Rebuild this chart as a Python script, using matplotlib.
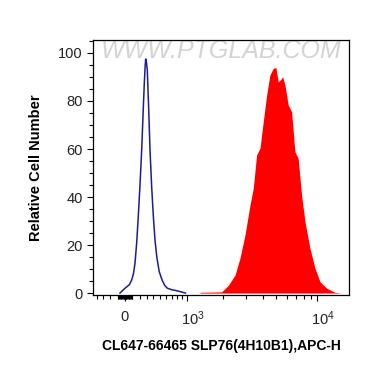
import numpy as np
import matplotlib
matplotlib.use("Agg")
import matplotlib.pyplot as plt
import matplotlib.transforms as mtransforms
from matplotlib.ticker import FixedLocator, MultipleLocator

plt.rcParams['font.family'] = ['Liberation Sans', 'DejaVu Sans']
plt.rcParams['mathtext.fontset'] = 'custom'
plt.rcParams['mathtext.rm'] = 'Liberation Sans'
plt.rcParams['mathtext.it'] = 'Liberation Sans'

# isotype control (blue outline), intensity vs relative count
control_x = [-68, 0, 60, 91, 115, 137, 160, 182, 206, 230, 250, 267, 280, 287, 298,
             310, 330, 350, 375, 400, 425, 453, 490, 537, 580, 626, 700, 789, 880, 968]
control_y = [0, 2, 3.5, 5.4, 8, 12.5, 21, 31.8, 45, 59.6, 75, 87.4, 95, 97.5, 96,
             92.9, 77, 59.6, 44, 31.8, 22, 15, 9, 5.4, 3.2, 2, 1.4, 1, 0.5, 0]

# stained sample (red filled)
sample_x = [1306, 1586, 1960, 2214, 2485, 2709, 2956, 3223, 3408, 3608, 3823, 4042,
            4281, 4526, 4786, 5006, 5203, 5418, 5603, 5829, 6161, 6523, 6892, 7283,
            7709, 8164, 8878, 9654, 10494, 11736, 13483, 15078]
sample_y = [0.3, 0.4, 0.5, 3.3, 7.5, 14.5, 24.2, 36.7, 43.6, 57.5, 60.3, 71.4,
            82.5, 90.8, 93.6, 93.9, 88, 88.8, 90.1, 86.7, 78.3, 75.5, 58.9, 56.1,
            40.8, 29.7, 18.6, 10.3, 4.7, 2, 0.3, 0]

major_ticks = [0, 1000, 10000]
major_labels = ['0', '$10^3$', '$10^4$']
minor_ticks = ([-400, -300, -200] + list(range(-100, 101, 10))
               + list(range(200, 1000, 100)) + list(range(2000, 10000, 1000)))

W = 815.0  # linear width of the biexponential axis


def fwd(v):
    return np.arcsinh(np.asarray(v, dtype=float) / W)


def inv(u):
    return W * np.sinh(np.asarray(u, dtype=float))


fig = plt.figure(figsize=(3.70, 3.67), dpi=100)
ax = fig.add_axes([0.2514, 0.1962, 0.6919, 0.6948])

ax.fill_between(sample_x, sample_y, 0, color='#ff0000', linewidth=0, zorder=2)
ax.plot(control_x, control_y, color='#1c1c96', linewidth=1.1, zorder=3)

ax.set_xscale('function', functions=(fwd, inv))
ax.set_xlim(-455, 17040)
ax.set_ylim(-0.8, 105.4)

ax.xaxis.set_major_locator(FixedLocator(major_ticks))
ax.set_xticklabels(major_labels)
ax.xaxis.set_minor_locator(FixedLocator(minor_ticks))
ax.yaxis.set_major_locator(MultipleLocator(20))
ax.yaxis.set_minor_locator(MultipleLocator(5))

ax.tick_params(which='major', direction='out', length=4.5, width=0.8,
               labelsize=10.5, labelcolor='#222222', pad=3)
ax.tick_params(axis='x', which='major', pad=6)
ax.tick_params(which='minor', direction='out', length=3, width=0.8)
for s in ax.spines.values():
    s.set_linewidth(0.9)

# nudge power labels right, like the original export
for t in ax.xaxis.get_major_ticks()[1:]:
    t.label1.set_transform(t.label1.get_transform() +
                           mtransforms.ScaledTranslation(6 / 100, 0, fig.dpi_scale_trans))

ax.set_ylabel('Relative Cell Number', fontsize=10.5, fontweight='bold', labelpad=11)
ax.set_xlabel('CL647-66465 SLP76(4H10B1),APC-H', fontsize=10, fontweight='bold',
              labelpad=8)

# watermark
ax.text(0.5, 0.955, 'WWW.PTGLAB.COM', transform=ax.transAxes, ha='center', va='center',
        fontsize=18, color='#d4d4d4', style='italic', zorder=1)

fig.savefig('out.png', dpi=100)
